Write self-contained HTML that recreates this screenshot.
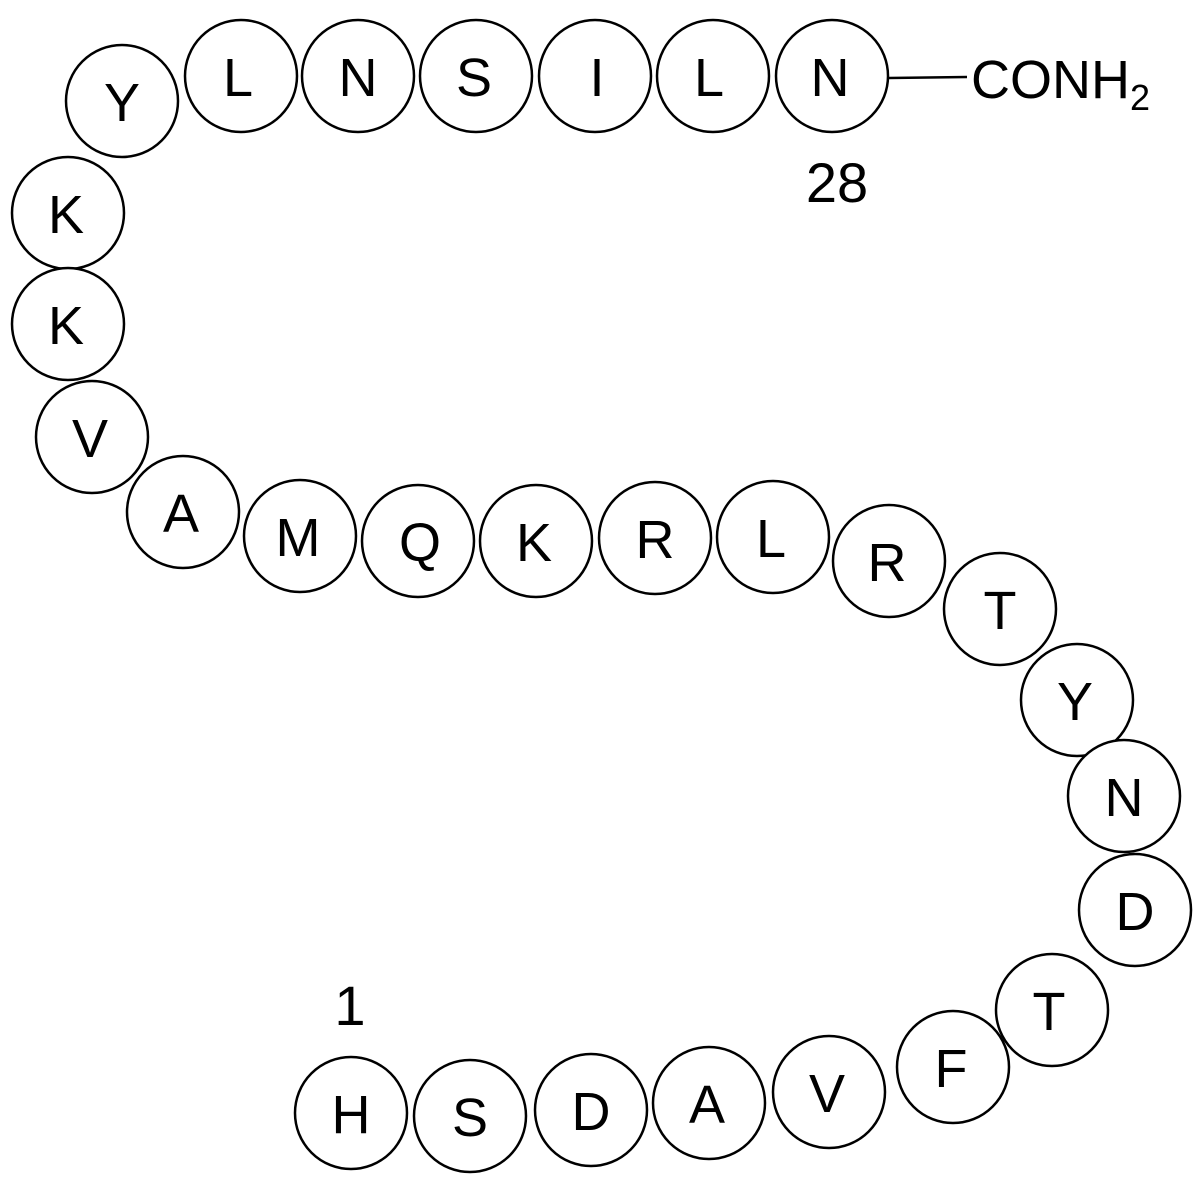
<!DOCTYPE html>
<html><head><meta charset="utf-8"><style>html,body{margin:0;padding:0;background:#fff}</style></head>
<body>
<svg width="1200" height="1184" viewBox="0 0 1200 1184" xmlns="http://www.w3.org/2000/svg" font-family="Liberation Sans, Arial, sans-serif" font-size="54">
<g fill="#fff" stroke="#000" stroke-width="2.5">
<circle cx="122" cy="101" r="56"/>
<circle cx="241" cy="76" r="56"/>
<circle cx="358" cy="76" r="56"/>
<circle cx="476" cy="76" r="56"/>
<circle cx="595" cy="76" r="56"/>
<circle cx="713" cy="76" r="56"/>
<circle cx="832" cy="76" r="56"/>
<circle cx="68" cy="213" r="56"/>
<circle cx="68" cy="324" r="56"/>
<circle cx="92" cy="437" r="56"/>
<circle cx="183" cy="512" r="56"/>
<circle cx="300" cy="536" r="56"/>
<circle cx="418" cy="541" r="56"/>
<circle cx="536" cy="541" r="56"/>
<circle cx="655" cy="538" r="56"/>
<circle cx="773" cy="537" r="56"/>
<circle cx="889" cy="561" r="56"/>
<circle cx="1000" cy="609" r="56"/>
<circle cx="1077" cy="700" r="56"/>
<circle cx="1124" cy="796" r="56"/>
<circle cx="1135" cy="910" r="56"/>
<circle cx="1052" cy="1010" r="56"/>
<circle cx="953" cy="1067" r="56"/>
<circle cx="829" cy="1092" r="56"/>
<circle cx="709" cy="1103" r="56"/>
<circle cx="591" cy="1110" r="56"/>
<circle cx="470" cy="1116" r="56"/>
<circle cx="351" cy="1113" r="56"/>
</g>
<line x1="889" y1="78" x2="967" y2="77" stroke="#000" stroke-width="2.5"/>
<g text-anchor="middle" fill="#000">
<text x="122" y="121">Y</text>
<text x="238" y="96">L</text>
<text x="358" y="96">N</text>
<text x="474" y="96">S</text>
<text x="597" y="96">I</text>
<text x="709" y="96">L</text>
<text x="830" y="96">N</text>
<text x="66" y="233">K</text>
<text x="66" y="344">K</text>
<text x="90" y="457">V</text>
<text x="181" y="532">A</text>
<text x="298" y="556">M</text>
<text x="420" y="561">Q</text>
<text x="534" y="561">K</text>
<text x="655" y="558">R</text>
<text x="771" y="557">L</text>
<text x="887" y="581">R</text>
<text x="1000" y="629">T</text>
<text x="1075" y="720">Y</text>
<text x="1124" y="816">N</text>
<text x="1135" y="930">D</text>
<text x="1049" y="1030">T</text>
<text x="951" y="1087">F</text>
<text x="827" y="1112">V</text>
<text x="707" y="1123">A</text>
<text x="591" y="1130">D</text>
<text x="470" y="1136">S</text>
<text x="351" y="1133">H</text>
<text x="837" y="202" font-size="56">28</text>
<text x="350" y="1025" font-size="56">1</text>
</g>
<text x="971" y="98" fill="#000">CONH<tspan font-size="36" dy="12">2</tspan></text>
</svg>
</body></html>
